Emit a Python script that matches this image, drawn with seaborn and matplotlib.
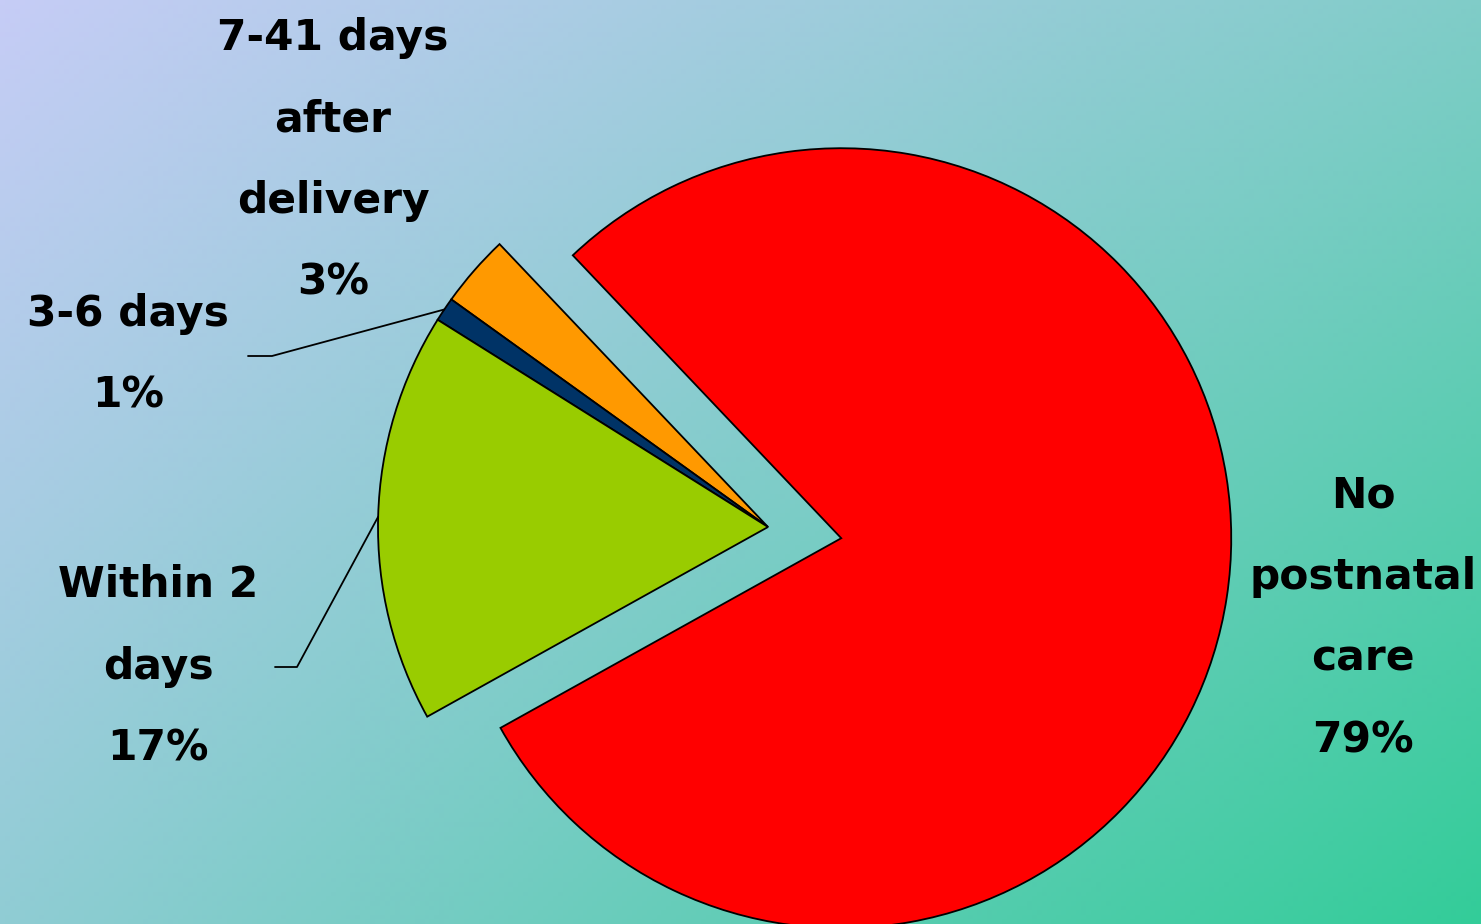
import numpy as np
import matplotlib
matplotlib.use("Agg")
import matplotlib.pyplot as plt
import seaborn as sns

sns.set_theme(style="white")
plt.rcParams['font.family'] = ['DejaVu Sans']

# Data
categories = ["7-41 days\nafter\ndelivery", "3-6 days", "Within 2\ndays", "No\npostnatal\ncare"]
values = [3.0, 1.0, 17.0, 79.0]
pct_labels = ["3%", "1%", "17%", "79%"]
colors = ["#FF9900", "#003366", "#99CC00", "#FF0000"]
explode = [0, 0, 0, 0.19]

W, H = 1481, 924
fig = plt.figure(figsize=(W / 100, H / 100), dpi=100)

# gradient background
bg = fig.add_axes([0, 0, 1, 1])
tl = np.array([0xC6, 0xCC, 0xF6]) / 255
tr = np.array([0x80, 0xCC, 0xC8]) / 255
bl = np.array([0x90, 0xCC, 0xD4]) / 255
br = np.array([0x33, 0xCC, 0x99]) / 255
u = np.linspace(0, 1, 300)[None, :, None]
v = np.linspace(0, 1, 200)[:, None, None]
img = (1 - u) * (1 - v) * tl + u * (1 - v) * tr + (1 - u) * v * bl + u * v * br
bg.imshow(img, aspect="auto", extent=[0, 1, 0, 1], origin="upper")
bg.axis("off")

ax = fig.add_axes([0, 0, 1, 1])
ax.patch.set_alpha(0)
R = 390.0
cx, cy = 768.0, 527.0
wedges, _ = ax.pie(values, colors=colors, explode=explode, startangle=133.5,
                   counterclock=True, radius=1.0,
                   wedgeprops=dict(edgecolor="black", linewidth=1.3))
ax.set_xlim(-cx / R, (W - cx) / R)
ax.set_ylim(-(H - cy) / R, cy / R)
ax.set_aspect("equal")
ax.axis("off")

fs = 30.5
def label(px, py, text):
    ax.text((px - cx) / R, (cy - py) / R, text, ha="center", va="center",
            fontsize=fs, fontweight="bold", color="black", linespacing=2.2)

label(333, 160, categories[0] + "\n" + pct_labels[0])
label(128, 355, categories[1] + "\n" + pct_labels[1])
label(158, 667, categories[2] + "\n" + pct_labels[2])
label(1363, 618, categories[3] + "\n" + pct_labels[3])

def leader(w, hx0, hx1, hy):
    ang = np.deg2rad((w.theta1 + w.theta2) / 2)
    ex, ey = np.cos(ang), np.sin(ang)
    x0, x1 = (hx0 - cx) / R, (hx1 - cx) / R
    y = (cy - hy) / R
    ax.plot([x0, x1, ex], [y, y, ey], color="black", lw=1.3)

leader(wedges[1], 248, 272, 356)
leader(wedges[2], 275, 297, 667)

fig.savefig("out.png", dpi=100)
